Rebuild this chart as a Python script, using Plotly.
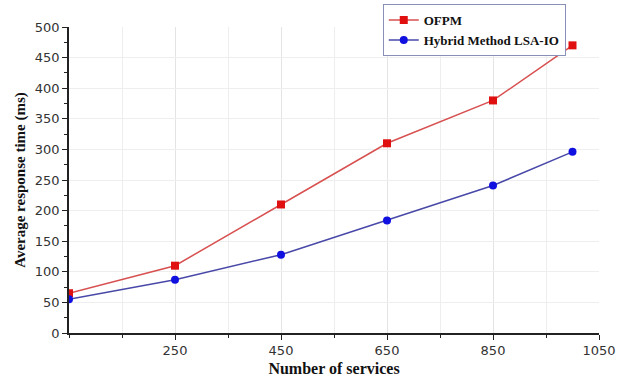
import plotly.graph_objects as go

services = [50, 250, 450, 650, 850, 1000]
ofpm = [65, 110, 210, 310, 380, 470]
hybrid = [55, 87, 128, 184, 241, 296]
x_ticks = [250, 450, 650, 850, 1050]
y_ticks = [0, 50, 100, 150, 200, 250, 300, 350, 400, 450, 500]

fig = go.Figure()
fig.add_trace(go.Scatter(x=services, y=ofpm, name="OFPM", mode="lines+markers",
                         line=dict(color="#d85050", width=1.5),
                         marker=dict(symbol="square", size=8, color="#e01010")))
fig.add_trace(go.Scatter(x=services, y=hybrid, name="Hybrid Method LSA-IO", mode="lines+markers",
                         line=dict(color="#4848a8", width=1.5),
                         marker=dict(symbol="circle", size=8, color="#1010e0")))

fig.update_layout(
    width=626, height=377,
    margin=dict(l=69, r=27, t=27, b=44, autoexpand=False),
    plot_bgcolor="white", paper_bgcolor="white",
    font=dict(family="DejaVu Sans", size=13, color="#333"),
    legend=dict(x=0.592, y=1.075, xanchor="left", yanchor="top",
                bgcolor="white", bordercolor="#8890b8", borderwidth=1,
                font=dict(family="Liberation Serif", size=13, color="#111", weight="bold"),
                tracegroupgap=0, itemwidth=30),
    xaxis=dict(range=[50, 1050], tickvals=x_ticks, showline=True, linecolor="#222", linewidth=1.5,
               ticks="outside", ticklen=5, tickcolor="#222", showgrid=True, gridcolor="#e4e4e4",
               minor=dict(dtick=100, tick0=50, ticks="outside", ticklen=3, tickcolor="#222",
                          showgrid=True, gridcolor="#eeeeee"),
               zeroline=False, automargin=False,
               title=dict(text="Number of services", standoff=6,
                          font=dict(family="Liberation Serif", size=16, color="#111", weight="bold"))),
    yaxis=dict(range=[0, 500], tickvals=y_ticks, showline=True, linecolor="#222", linewidth=1.5,
               ticks="outside", ticklen=5, tickcolor="#222", showgrid=True, gridcolor="#eeeeee",
               minor=dict(dtick=25, ticks="outside", ticklen=3, tickcolor="#222", showgrid=False),
               zeroline=False, automargin=False,
               title=dict(text="Average response time (ms)", standoff=6,
                          font=dict(family="Liberation Serif", size=15, color="#111", weight="bold"))),
)

fig.write_html("out.html")
